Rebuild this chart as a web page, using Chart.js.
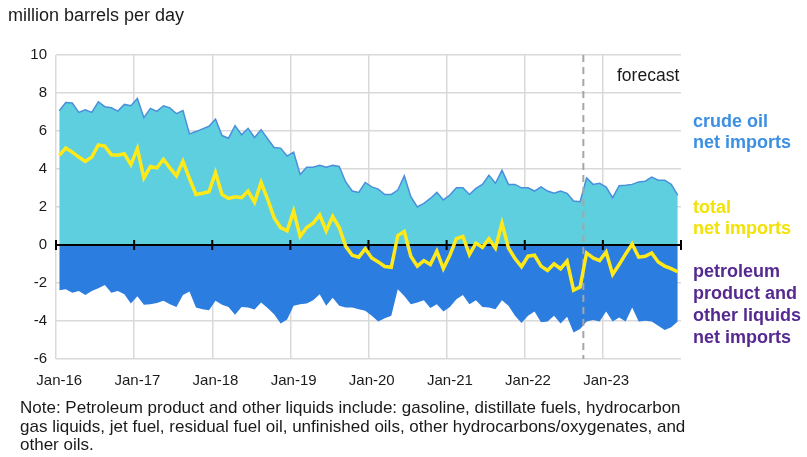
<!DOCTYPE html>
<html>
<head>
<meta charset="utf-8">
<script src="https://cdn.jsdelivr.net/npm/chart.js@4.4.0/dist/chart.umd.min.js"></script>
<style>
  body { margin: 0; background: #fff; font-family: "Liberation Sans", Arial, sans-serif; }
  .wrap { position: relative; width: 807px; height: 457px; overflow: hidden; }
  #chart { position: absolute; left: 0; top: 0; }
  .txt { position: absolute; white-space: nowrap; color: #1a1a1a; }
  #unit { left: 8px; top: 5px; font-size: 18px; line-height: 20px; }
  #forecast { left: 617px; top: 65px; font-size: 17.5px; line-height: 20px; }
  .lab { left: 693px; font-size: 18px; font-weight: bold; }
  #crudeLab { top: 111px; line-height: 21px; color: #3d8fe2; }
  #totalLab { top: 197px; line-height: 21px; color: #f2e205; }
  #prodLab { top: 260px; line-height: 22px; color: #55298f; }
  #note { left: 20px; top: 399px; font-size: 17px; line-height: 18.5px; }
</style>
</head>
<body>
<div class="wrap">
  <canvas id="chart" width="807" height="457"></canvas>
  <div class="txt" id="unit">million barrels per day</div>
  <div class="txt" id="forecast">forecast</div>
  <div class="txt lab" id="crudeLab">crude oil<br>net imports</div>
  <div class="txt lab" id="totalLab">total<br>net imports</div>
  <div class="txt lab" id="prodLab">petroleum<br>product and<br>other liquids<br>net imports</div>
  <div class="txt" id="note">Note: Petroleum product and other liquids include: gasoline, distillate fuels, hydrocarbon<br>gas liquids, jet fuel, residual fuel oil, unfinished oils, other hydrocarbons/oxygenates, and<br>other oils.</div>
</div>
<script>
let years = ["16", "17", "18", "19", "20", "21", "22", "23"];
let months = ["Jan", "Feb", "Mar", "Apr", "May", "Jun", "Jul", "Aug", "Sep", "Oct", "Nov", "Dec"];
let labels = [];
years.forEach((yr) => months.forEach((m) => labels.push(`${m}-${yr}`)));

let forecastStart = "Oct-22";

// crude oil net imports, million b/d
let crude = [
  7.07, 7.50, 7.47, 6.98, 7.12, 6.98, 7.54, 7.28, 7.22, 7.05, 7.40, 7.33,
  7.71, 6.70, 7.19, 7.03, 7.33, 7.22, 6.91, 7.07, 5.85, 5.97, 6.11, 6.25,
  6.63, 5.76, 5.62, 6.28, 5.80, 6.14, 5.66, 6.07, 5.59, 5.13, 5.10, 4.68,
  4.89, 3.71, 4.09, 4.09, 4.19, 4.09, 4.19, 4.13, 3.32, 2.84, 2.77, 3.29,
  3.06, 2.94, 2.66, 2.66, 2.89, 3.64, 2.54, 2.00, 2.19, 2.45, 2.77, 2.37,
  2.63, 3.01, 3.01, 2.66, 2.98, 3.19, 3.67, 3.25, 3.93, 3.19, 3.19, 3.01,
  3.01, 2.84, 3.06, 2.84, 2.72, 2.84, 2.72, 2.32, 2.28, 3.53, 3.19, 3.25,
  3.05, 2.49, 3.12, 3.15, 3.19, 3.32, 3.36, 3.57, 3.41, 3.41, 3.19, 2.63,
];

// petroleum product and other liquids net imports
let product = [
  -2.38, -2.33, -2.51, -2.42, -2.63, -2.42, -2.28, -2.11, -2.51, -2.42, -2.59, -3.08,
  -2.70, -3.15, -3.12, -3.05, -2.94, -3.12, -3.26, -2.63, -2.45, -3.29, -3.38, -3.43,
  -2.94, -3.15, -3.26, -3.67, -3.26, -3.29, -3.39, -3.03, -3.32, -3.64, -4.13, -3.92,
  -3.20, -3.12, -3.08, -2.91, -2.59, -3.20, -2.77, -3.20, -3.29, -3.29, -3.38, -3.46,
  -3.72, -4.02, -3.85, -3.72, -2.33, -2.68, -3.12, -3.03, -2.91, -3.32, -3.12, -3.50,
  -3.26, -2.85, -2.63, -3.12, -2.91, -3.26, -3.29, -3.38, -2.91, -3.20, -3.72, -4.10,
  -3.72, -3.50, -4.07, -4.02, -3.72, -4.13, -3.78, -4.60, -4.42, -4.02, -3.95, -4.02,
  -3.50, -4.02, -3.81, -4.02, -3.29, -4.02, -3.99, -4.02, -4.25, -4.47, -4.33, -4.02,
];

// total net imports
let total = [
  4.72, 5.10, 4.89, 4.63, 4.40, 4.63, 5.27, 5.20, 4.75, 4.72, 4.80, 4.23,
  5.07, 3.53, 4.13, 4.06, 4.51, 4.06, 3.64, 4.40, 3.50, 2.66, 2.72, 2.80,
  3.81, 2.66, 2.45, 2.54, 2.49, 2.84, 2.25, 3.29, 2.42, 1.44, 0.92, 0.75,
  1.79, 0.45, 0.92, 1.15, 1.58, 0.75, 1.50, 0.92, -0.07, -0.54, -0.64, -0.20,
  -0.68, -0.89, -1.13, -1.17, 0.50, 0.71, -0.59, -1.11, -0.82, -1.03, -0.33, -1.24,
  -0.54, 0.33, 0.45, -0.50, 0.10, -0.12, 0.33, -0.16, 1.15, -0.16, -0.71, -1.14,
  -0.59, -0.54, -1.11, -1.34, -0.99, -1.25, -0.85, -2.38, -2.21, -0.42, -0.68, -0.82,
  -0.37, -1.55, -1.03, -0.47, 0.05, -0.64, -0.59, -0.42, -0.89, -1.11, -1.24, -1.41,
];

let yMin = -6;
let yMax = 10;
let yStep = 2;

// zero line with january ticks + forecast divider, drawn under the total line
const overlayPlugin = {
  id: "overlay",
  beforeDatasetDraw(chart, args) {
    if (args.index !== 0) return;
    const { ctx, chartArea } = chart;
    const x = chart.scales.x;
    const y = chart.scales.y;
    const slot = x.getPixelForValue(1) - x.getPixelForValue(0);
    const y0 = y.getPixelForValue(0);

    ctx.save();
    const fi = labels.indexOf(forecastStart);
    const fx = x.getPixelForValue(fi) - slot / 2;
    ctx.strokeStyle = "#a6a6a6";
    ctx.lineWidth = 2;
    ctx.setLineDash([7, 5]);
    ctx.beginPath();
    ctx.moveTo(fx, chartArea.top);
    ctx.lineTo(fx, chartArea.bottom);
    ctx.stroke();
    ctx.setLineDash([]);

    ctx.strokeStyle = "#000";
    ctx.lineWidth = 2;
    ctx.beginPath();
    ctx.moveTo(chartArea.left, y0);
    ctx.lineTo(chartArea.right, y0);
    for (let i = 0; i <= labels.length; i += 12) {
      const tx = x.getPixelForValue(i) - slot / 2;
      ctx.moveTo(tx, y0 - 5);
      ctx.lineTo(tx, y0 + 5);
    }
    ctx.stroke();
    ctx.restore();
  },
};

let config = {
  type: "line",
  data: {
    labels: labels,
    datasets: [
      {
        label: "total net imports",
        data: total,
        borderColor: "#ffe919",
        borderWidth: 3.5,
        pointRadius: 0,
        fill: false,
        tension: 0,
      },
      {
        label: "crude oil net imports",
        data: crude,
        borderColor: "#4a8fdc",
        borderWidth: 1.5,
        backgroundColor: "#5ecfde",
        pointRadius: 0,
        fill: "origin",
        tension: 0,
      },
      {
        label: "petroleum product and other liquids net imports",
        data: product,
        borderColor: "#2c7de0",
        borderWidth: 0,
        backgroundColor: "#2c7de0",
        pointRadius: 0,
        fill: "origin",
        tension: 0,
      },
    ],
  },
  options: {
    responsive: false,
    animation: false,
    devicePixelRatio: 1,
    layout: { padding: { left: 0, right: 126, top: 55, bottom: 0 } },
    plugins: { legend: { display: false }, tooltip: { enabled: false } },
    scales: {
      x: {
        offset: true,
        grid: {
          offset: true,
          drawTicks: false,
          lineWidth: 1.5,
          color: (c) => (c.index % 12 === 0 ? "#d9d9d9" : "rgba(0,0,0,0)"),
        },
        border: { display: false },
        ticks: {
          autoSkip: false,
          maxRotation: 0,
          minRotation: 0,
          padding: 13,
          color: "#1a1a1a",
          font: { family: "Liberation Sans", size: 15 },
          callback: (v, i) => (i % 12 === 0 ? labels[i] : ""),
        },
        afterFit: (scale) => {
          scale.height = 98;
        },
      },
      y: {
        min: yMin,
        max: yMax,
        grid: { drawTicks: false, lineWidth: 1.5, color: "#d9d9d9" },
        border: { display: false },
        ticks: {
          stepSize: yStep,
          padding: 9,
          color: "#1a1a1a",
          font: { family: "Liberation Sans", size: 15 },
        },
        afterFit: (scale) => {
          scale.width = 56;
        },
      },
    },
  },
  plugins: [overlayPlugin],
};

new Chart(document.querySelector("#chart"), config);
</script>
</body>
</html>
